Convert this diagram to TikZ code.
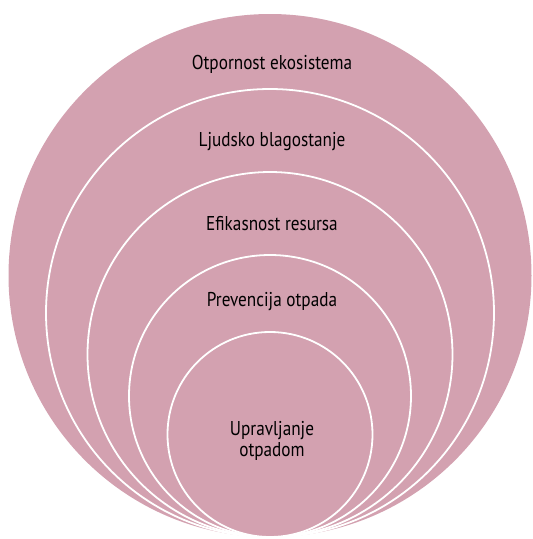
\documentclass[tikz,border=0pt]{standalone}
\usepackage{fontspec}
\setmainfont[FakeStretch=0.86]{PT Sans}
\usepackage{xcolor}
\definecolor{ringpink}{RGB}{211,161,176}

\tikzset{
  ring/.style={fill=ringpink, draw=white, line width=1.8pt},
  ringlabel/.style={font=\fontsize{20}{21.5}\selectfont, text=black, align=center, inner sep=0pt}
}

\begin{document}
\begin{tikzpicture}[x=1pt,y=-1pt]
  \useasboundingbox (0,0) rectangle (533,539);
  % outer circle, no border
  \fill[ringpink] (270,275.5) circle (261.5);
  % inner circles, all touching at the bottom
  \draw[ring] (270,313) circle (224);
  \draw[ring] (270,354.5) circle (182.5);
  \draw[ring] (270,396) circle (141);
  \draw[ring] (270,434.5) circle (102.5);

  \node[ringlabel] (ecosys) at (272,64) {Otpornost ekosistema};
  \node[ringlabel] (wellbeing) at (272,142) {Ljudsko blagostanje};
  \node[ringlabel] (efficiency) at (272,224) {Efikasnost resursa};
  \node[ringlabel] (prevention) at (272,302) {Prevencija otpada};
  \node[ringlabel] (management) at (272,441) {Upravljanje\\otpadom};
\end{tikzpicture}
\end{document}
